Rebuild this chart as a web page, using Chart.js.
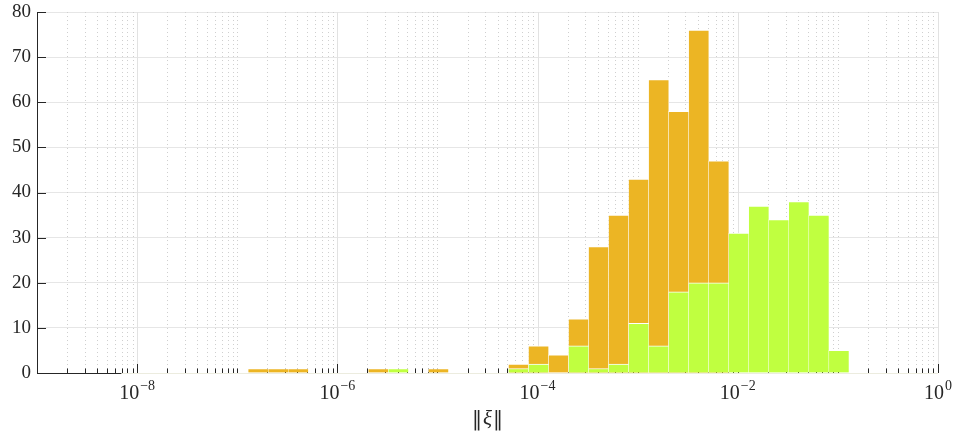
<!DOCTYPE html>
<html>
<head>
<meta charset="utf-8">
<title>Histogram of ‖ξ‖</title>
<script src="https://cdn.jsdelivr.net/npm/chart.js@4.4.0/dist/chart.umd.min.js"></script>
<style>
    html, body { margin: 0; padding: 0; background: #fff; }
    canvas { display: block; }
</style>
</head>
<body>
<canvas id="histChart" width="956" height="434"></canvas>
<script>
// bin centres as powers of ten (every bin is 0.2 decade wide)
const binExponents = [-6.79, -6.59, -6.39, -5.59, -5.39, -4.99, -4.19, -3.99, -3.79, -3.59, -3.39, -3.19,
                      -2.99, -2.79, -2.59, -2.39, -2.19, -1.99, -1.79, -1.59, -1.39, -1.19, -0.99];
const orangeCounts = [1, 1, 1, 1, 0, 1, 2, 6, 4, 12, 28, 35, 43, 65, 58, 76, 47, 0, 0, 0, 0, 0, 0];
const greenCounts  = [0, 0, 0, 0, 1, 0, 1, 2, 0, 6, 1, 2, 11, 6, 18, 20, 20, 31, 37, 34, 38, 35, 5];

// axis ticks
const xLabelExponents = [-8, -6, -4, -2, 0];
const yTickValues = [0, 10, 20, 30, 40, 50, 60, 70, 80];
const xLabelText = ['‖', 'ξ', '‖'];

const SERIF = '"Liberation Serif", "DejaVu Serif", serif';
const AXIS_COLOR = '#262626';

// every 1..9 x 10^k between the axis limits
const xMinorValues = [];
for (let k = -9; k < 0; k++) {
    for (let m = 1; m <= 9; m++) {
        if (k === -9 && m === 1) continue;
        xMinorValues.push(m * Math.pow(10, k));
    }
}
xMinorValues.push(1);

function isLabelled(v) {
    const e = Math.log10(v);
    return Math.abs(e - Math.round(e)) < 1e-9 && xLabelExponents.includes(Math.round(e));
}

function strokeLine(ctx, x1, y1, x2, y2) {
    ctx.beginPath();
    ctx.moveTo(x1, y1);
    ctx.lineTo(x2, y2);
    ctx.stroke();
}

// MATLAB style grid, inward ticks and 10^k labels
const axisDecor = {
    id: 'axisDecor',
    beforeDatasetsDraw(chart) {
        const { ctx, chartArea: area, scales: { x, y } } = chart;
        ctx.save();
        ctx.lineWidth = 1;

        // vertical grid
        xMinorValues.forEach(v => {
            const px = Math.round(x.getPixelForValue(v)) + 0.5;
            if (isLabelled(v)) {
                ctx.setLineDash([]);
                ctx.strokeStyle = '#e2e2e2';
            } else {
                ctx.setLineDash([1, 3]);
                ctx.strokeStyle = '#cfcfcf';
            }
            strokeLine(ctx, px, area.top, px, area.bottom);
        });
        ctx.setLineDash([]);

        // x ticks pointing up
        ctx.strokeStyle = AXIS_COLOR;
        xMinorValues.forEach(v => {
            const px = Math.round(x.getPixelForValue(v)) + 0.5;
            const len = isLabelled(v) ? 9 : 4.5;
            strokeLine(ctx, px, area.bottom, px, area.bottom - len);
        });

        // y ticks pointing right
        yTickValues.forEach(v => {
            if (v === 0) return;
            const py = Math.round(y.getPixelForValue(v)) + 0.5;
            strokeLine(ctx, area.left, py, area.left + 9, py);
        });
        ctx.restore();
    },
    afterDatasetsDraw(chart) {
        const { ctx, chartArea: area, scales: { x } } = chart;
        ctx.save();
        const py = Math.round(area.bottom) + 0.5;
        const split = x.getPixelForValue(7e-9);
        ctx.lineWidth = 1;
        ctx.strokeStyle = AXIS_COLOR;
        strokeLine(ctx, area.left, py, split, py);
        ctx.strokeStyle = '#ececdf';
        strokeLine(ctx, split, py, area.right, py);

        // tick labels 10^k
        ctx.fillStyle = AXIS_COLOR;
        ctx.textBaseline = 'alphabetic';
        ctx.textAlign = 'left';
        xLabelExponents.forEach(e => {
            const px = x.getPixelForValue(Math.pow(10, e));
            const base = '10';
            const sup = e === 0 ? '0' : '\u2212' + Math.abs(e);
            ctx.font = '20px ' + SERIF;
            const wb = ctx.measureText(base).width;
            ctx.font = '14px ' + SERIF;
            const ws = ctx.measureText(sup).width;
            const left = px - (wb + ws + 1) / 2;
            ctx.font = '20px ' + SERIF;
            ctx.fillText(base, left, 399);
            ctx.font = '14px ' + SERIF;
            ctx.fillText(sup, left + wb + 1, 390);
        });

        // axis title ‖ξ‖ (double bars from DejaVu, which draws them full height)
        const fonts = ['20px "DejaVu Serif", serif', 'italic 21px ' + SERIF, '20px "DejaVu Serif", serif'];
        const gap = 1;
        let total = 0;
        const widths = xLabelText.map((t, i) => {
            ctx.font = fonts[i];
            const w = ctx.measureText(t).width;
            total += w;
            return w;
        });
        total += gap * (xLabelText.length - 1);
        let cx = (area.left + area.right) / 2 - total / 2;
        xLabelText.forEach((t, i) => {
            ctx.font = fonts[i];
            ctx.fillText(t, cx, 425);
            cx += widths[i] + gap;
        });
        ctx.restore();
    }
};

const ctx = document.getElementById('histChart').getContext('2d');

function binData(counts) {
    return binExponents.map((e, i) => ({ x: Math.pow(10, e), y: counts[i] }));
}

new Chart(ctx, {
    type: 'bar',
    data: {
        datasets: [{
            label: 'green',
            data: binData(greenCounts),
            backgroundColor: '#c0ff40',
            borderColor: '#ffffff',
            borderWidth: { top: 1, left: 0.5, right: 0.5, bottom: 0 }
        }, {
            label: 'orange',
            data: binData(orangeCounts),
            backgroundColor: '#ecb524',
            borderColor: '#ffffff',
            borderWidth: { top: 1, left: 0.5, right: 0.5, bottom: 0 }
        }]
    },
    options: {
        responsive: false,
        animation: false,
        devicePixelRatio: 1,
        grouped: false,
        barPercentage: 1,
        categoryPercentage: 1,
        layout: { padding: { top: 12, right: 18, left: 0, bottom: 0 } },
        plugins: {
            legend: { display: false },
            tooltip: { enabled: false }
        },
        scales: {
            x: {
                type: 'logarithmic',
                min: 1e-9,
                max: 1,
                // keep only the decade ticks so the bar width follows the bins
                afterBuildTicks(scale) {
                    scale.ticks = xLabelExponents.map(e => ({ value: Math.pow(10, e) }));
                },
                grid: { display: false },
                border: { display: false },
                ticks: { display: false },
                afterFit(scale) {
                    scale.height = 61;
                    scale.paddingLeft = 0;
                    scale.paddingRight = 0;
                }
            },
            y: {
                min: 0,
                max: 80,
                afterBuildTicks(scale) {
                    scale.ticks = yTickValues.map(v => ({ value: v }));
                },
                grid: { color: '#e6e6e6', lineWidth: 1, drawTicks: false },
                border: { display: true, color: AXIS_COLOR, width: 1 },
                ticks: {
                    padding: 6,
                    color: AXIS_COLOR,
                    font: { family: SERIF, size: 19 }
                },
                afterFit(scale) {
                    scale.width = 37;
                    scale.paddingTop = 0;
                    scale.paddingBottom = 0;
                }
            }
        }
    },
    plugins: [axisDecor]
});
</script>
</body>
</html>
